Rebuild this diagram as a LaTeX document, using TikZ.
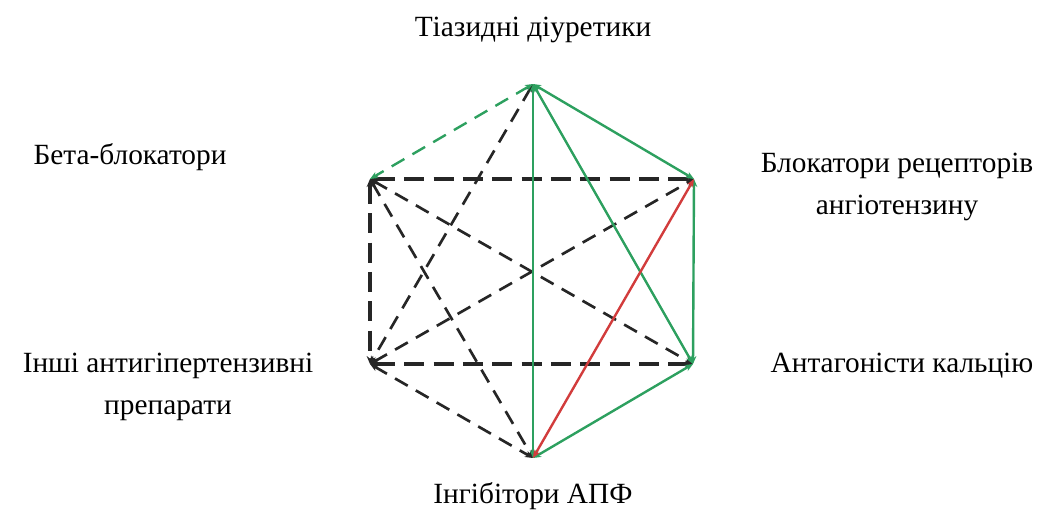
\documentclass[tikz,border=0pt]{standalone}
\usepackage{fontspec}
\setmainfont{Liberation Serif}
\usetikzlibrary{arrows.meta,positioning}
\definecolor{combgreen}{RGB}{45,160,95}
\definecolor{combred}{RGB}{210,60,60}

\begin{document}
\begin{tikzpicture}[x=0.75pt,y=-0.75pt,
    lbl/.style={align=center,font=\fontsize{22}{31}\selectfont,inner sep=0pt},
    tip/.style={{Stealth[length=6pt,width=5pt]}-{Stealth[length=6pt,width=5pt]}},
    good/.style={tip,combgreen,line width=1.8pt},
    bad/.style={tip,combred,line width=1.8pt},
    maybe/.style={tip,black!85,line width=2pt,dash pattern=on 11pt off 7pt},
    never/.style={tip,black!85,line width=3pt,dash pattern=on 15pt off 7pt}]
    \useasboundingbox (0,0) rectangle (1061,522);
    % vertices of the hexagon
    \coordinate (thz) at (533,84);
    \coordinate (arb) at (694,179);
    \coordinate (ccb) at (693,364);
    \coordinate (ace) at (533,458);
    \coordinate (oth) at (370,364);
    \coordinate (bb)  at (370,179);
    % labels
    \node[lbl] (thzl) at (533,30) {Тіазидні діуретики};
    \node[lbl] (bbl) at (130,157) {Бета-блокатори};
    \node[lbl] (arbl) at (897,187) {Блокатори рецепторів\\ангіотензину};
    \node[lbl] (ccbl) at (902,366) {Антагоністи кальцію};
    \node[lbl] (othl) at (168,387) {Інші антигіпертензивні\\препарати};
    \node[lbl] (acel) at (533,496) {Інгібітори АПФ};
    % black dashed pairs
    \draw[maybe] (thz) -- (oth);
    \draw[maybe] (bb) -- (ccb);
    \draw[maybe] (bb) -- (ace);
    \draw[maybe] (oth) -- (arb);
    \draw[maybe] (oth) -- (ace);
    \draw[never] (bb) -- (arb);
    \draw[never] (bb) -- (oth);
    \draw[never] (oth) -- (ccb);
    % green pairs
    \draw[good,dash pattern=on 11pt off 7pt] (thz) -- (bb);
    \draw[good] (thz) -- (arb);
    \draw[good] (thz) -- (ace);
    \draw[good] (thz) -- (ccb);
    \draw[good] (arb) -- (ccb);
    \draw[good] (ccb) -- (ace);
    % red pair
    \draw[bad] (arb) -- (ace);
\end{tikzpicture}
\end{document}
